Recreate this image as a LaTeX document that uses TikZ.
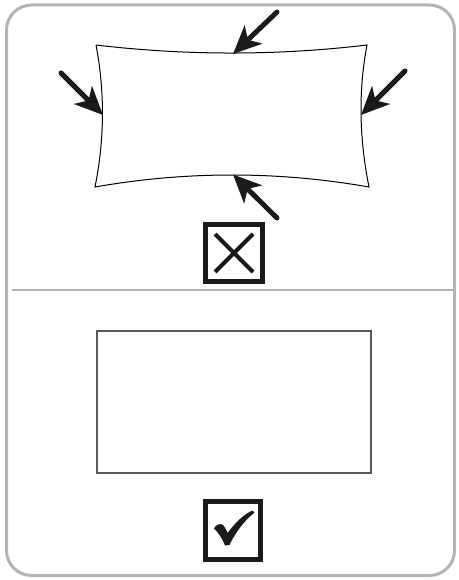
\documentclass[tikz,border=0pt]{standalone}
\usetikzlibrary{arrows.meta}
\definecolor{framegray}{HTML}{B3B3B3}
\definecolor{rectgray}{HTML}{5A5A5A}
\definecolor{arrowblack}{HTML}{1A1A1A}
\begin{document}
\begin{tikzpicture}[x=1pt,y=-1pt,
  frameline/.style={draw=framegray,line width=3pt},
  pointer/.style={draw=arrowblack,line width=5pt,line cap=round,
    -{Stealth[length=28pt,width=25pt,inset=7.5pt,line cap=butt,line join=miter]}},
  markbox/.style={draw=arrowblack,line width=5pt},
  crossline/.style={draw=arrowblack,line width=4pt}]
\useasboundingbox (0,0) rectangle (458,580);
% outer frame and divider
\draw[frameline,rounded corners=25pt] (6.5,5) rectangle (454.5,575.5);
\coordinate (divL) at (12,290);
\coordinate (divR) at (453,290);
\draw[draw=framegray,line width=2.2pt] (divL) -- (divR);
% warped sheet
\coordinate (tl) at (96,45);
\coordinate (tr) at (367,45);
\coordinate (br) at (369,187);
\coordinate (bl) at (95,187);
\draw[line width=1pt] (tl) .. controls (186,55.7) and (277,55.7) .. (tr)
  .. controls (358,92) and (359.5,140) .. (br)
  .. controls (278,171) and (186,171) .. (bl)
  .. controls (104.5,140) and (105,92) .. (tl);
% arrow tips on the sheet
\coordinate (ptop) at (233,54);
\coordinate (pbot) at (233,174.5);
\coordinate (pleft) at (103,115);
\coordinate (pright) at (361,115);
\coordinate (stop) at (277,12);
\coordinate (sbot) at (277,218);
\coordinate (sleft) at (61,73);
\coordinate (sright) at (405,71);
\draw[pointer] (stop) -- (ptop);
\draw[pointer] (sbot) -- (pbot);
\draw[pointer] (sleft) -- (pleft);
\draw[pointer] (sright) -- (pright);
% cross box
\node[markbox,minimum width=57pt,minimum height=57pt,inner sep=0pt] (xbox) at (234,253) {};
\draw[crossline] ([shift={(-19,-19)}]xbox.center) -- ([shift={(19,19)}]xbox.center);
\draw[crossline] ([shift={(19,-19)}]xbox.center) -- ([shift={(-19,19)}]xbox.center);
% flat sheet
\node[draw=rectgray,line width=1.4pt,minimum width=274pt,minimum height=142pt,inner sep=0pt] (flat) at (234,402) {};
% check box
\node[markbox,minimum width=55pt,minimum height=58pt,inner sep=0pt] (cbox) at (233,530) {};
\fill[arrowblack] (214,528.5) .. controls (216,525) and (219,523.5) .. (221,524)
  .. controls (224,525) and (226,529) .. (227.5,533)
  .. controls (235,523) and (244,514) .. (252.5,510.5)
  -- (254.5,512.5)
  .. controls (244,521) and (235,533) .. (229.5,545)
  -- (225,545.5)
  .. controls (222,538) and (218,532) .. (214,528.5) -- cycle;
\end{tikzpicture}
\end{document}
